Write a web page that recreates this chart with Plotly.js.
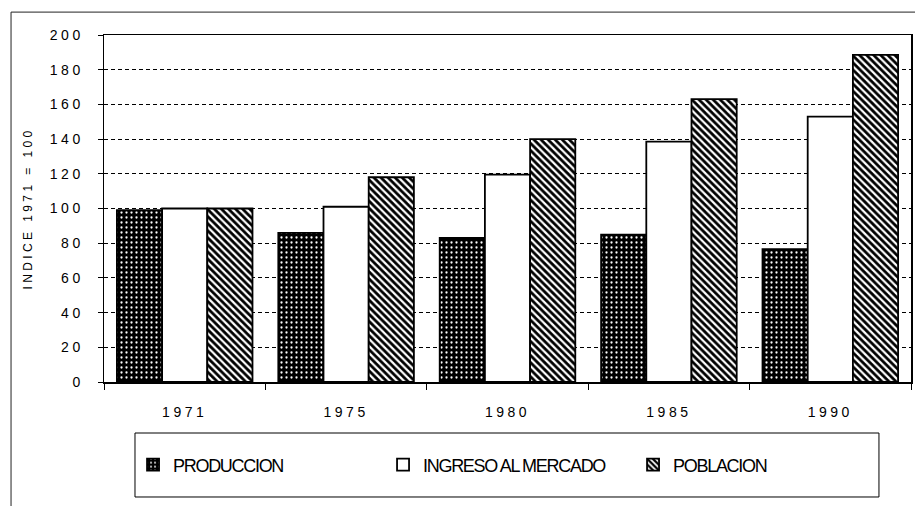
<!DOCTYPE html>
<html><head><meta charset="utf-8">
<script src="https://cdn.plot.ly/plotly-3.0.1.min.js"></script>
<style>
html,body{margin:0;padding:0;background:#fff}
#chart{width:915px;height:506px}
.xtick text,.ytick text{letter-spacing:3.5px}
.ytitle{letter-spacing:3.4px}
.legendtext{letter-spacing:-1.3px}
</style></head><body><div id="chart"></div>
<script>
var categories = ['1971', '1975', '1980', '1985', '1990'];
var produccion = [99, 86, 83, 85, 76.5];
var ingreso = [100, 101, 119.5, 138.5, 153];
var poblacion = [100, 118, 140, 163, 188.5];
var seriesNames = ['PRODUCCION', 'INGRESO AL MERCADO', 'POBLACION'];
var yTickVals = [0, 20, 40, 60, 80, 100, 120, 140, 160, 180, 200];
var yTitle = 'INDICE 1971 = 100';

var FONT = '"Liberation Sans", Arial, Helvetica, sans-serif';
var lineStyle = {color: '#000', width: 1.8};

var traces = [
  {type: 'bar', name: seriesNames[0], x: categories, y: produccion,
   marker: {color: '#000', line: lineStyle,
            pattern: {shape: '.', bgcolor: '#000', fgcolor: '#fff', size: 5, solidity: 0.16}}},
  {type: 'bar', name: seriesNames[1], x: categories, y: ingreso,
   marker: {color: '#fff', line: lineStyle}},
  {type: 'bar', name: seriesNames[2], x: categories, y: poblacion,
   marker: {color: '#fff', line: lineStyle,
            pattern: {shape: '\\', bgcolor: '#fff', fgcolor: '#000', size: 5, solidity: 0.55}}}
];

var layout = {
  width: 915, height: 506,
  margin: {l: 104, r: 4, t: 35, b: 124},
  paper_bgcolor: '#fff', plot_bgcolor: '#fff',
  font: {family: FONT, color: '#000', size: 13},
  barmode: 'group', bargap: 0.16, bargroupgap: 0,
  showlegend: true,
  legend: {orientation: 'h', x: 0.036, xanchor: 'left', y: -0.239, yanchor: 'middle',
           entrywidth: 205, entrywidthmode: 'pixels',
           font: {family: FONT, size: 18, color: '#000'}, bgcolor: 'rgba(0,0,0,0)'},
  xaxis: {type: 'category', tickson: 'boundaries', ticks: 'outside', ticklen: 6, tickcolor: '#000',
          showline: true, linecolor: '#000', linewidth: 1.5, mirror: true, showgrid: false,
          ticklabelstandoff: 17, tickfont: {family: FONT, size: 14, color: '#000'}},
  yaxis: {range: [0, 200], tickvals: yTickVals, ticks: 'outside', ticklen: 5, tickcolor: '#000',
          showline: true, linecolor: '#000', linewidth: 1.5, mirror: true,
          showgrid: true, gridcolor: '#000', gridwidth: 1, griddash: '4px,3px',
          zeroline: false, ticklabelstandoff: 11,
          tickfont: {family: FONT, size: 14, color: '#000'},
          title: {text: yTitle, standoff: 14, font: {family: FONT, size: 12, color: '#000'}}},
  shapes: [
    {type: 'rect', xref: 'paper', yref: 'paper', x0: 0.0384, x1: 0.9603, y0: -0.3314, y1: -0.147,
     line: {color: '#000', width: 1}, fillcolor: 'rgba(0,0,0,0)'},
    {type: 'line', xref: 'paper', yref: 'paper', x0: -0.1152, x1: 1.01, y0: 1.066, y1: 1.066,
     line: {color: '#222', width: 1}},
    {type: 'line', xref: 'paper', yref: 'paper', x0: -0.1152, x1: -0.1152, y0: 1.066, y1: -0.36,
     line: {color: '#222', width: 1}}
  ]
};

Plotly.newPlot('chart', traces, layout, {displayModeBar: false, staticPlot: true});
</script></body></html>
